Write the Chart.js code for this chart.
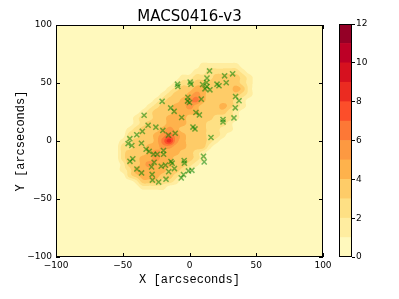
<!DOCTYPE html>
<html>
<head>
<meta charset="utf-8">
<script src="https://cdn.jsdelivr.net/npm/chart.js@4.4.1/dist/chart.umd.min.js"></script>
<style>
html,body{margin:0;padding:0;background:#ffffff;}
#wrap{position:relative;width:399px;height:299px;overflow:hidden;}
#main{position:absolute;left:0;top:0;}
#cbar{position:absolute;left:330px;top:0;}
</style>
</head>
<body>
<div id="wrap">
<canvas id="main" width="399" height="299"></canvas>
<canvas id="cbar" width="69" height="299"></canvas>
</div>
<script>
// ---------------- data ----------------
const chartTitle = "MACS0416-v3";
const xAxisLabel = "X [arcseconds]";
const yAxisLabel = "Y [arcseconds]";
const xTicks = [-100, -50, 0, 50, 100];
const yTicks = [-100, -50, 0, 50, 100];
const colorbarTicks = [0, 2, 4, 6, 8, 10, 12];
const contourLevels = [0, 1, 2, 3, 4, 5, 6, 7, 8, 9, 10, 11, 12];
const bandColors = ["#fff9bd", "#ffeda0", "#fee084", "#fecc68", "#feb24c", "#fd9941",
                    "#fd7836", "#fc4e2a", "#eb2b21", "#d6111f", "#bd0026", "#940026"];

// density grid nodes (arcsec)
const gridX = [-55, -50, -45, -40, -35, -30, -25, -20, -15, -10, -5, 0, 5, 10, 15, 20, 25, 30, 35, 40, 45];
const gridY = [65, 60, 55, 50, 45, 40, 35, 30, 25, 20, 15, 10, 5, 0, -5, -10, -15, -20, -25, -30, -35, -40];
// one digit per node: contour band seen at that node (row = gridY, column = gridX)
const densityRows = [
  "000000000000011111100",
  "000000000000112222210",
  "000000000011222333321",
  "000000000122333333321",
  "000000001233443333431",
  "000000012334543333321",
  "000000123345643333210",
  "000001233445433343210",
  "000012333444433332100",
  "000122334443333222100",
  "000123334443332221000",
  "001233345433332211000",
  "002233456543332210000",
  "012333468543332100000",
  "022334455443331000000",
  "023334544433210000000",
  "023344544333210000000",
  "013345444332100000000",
  "012444443321000000000",
  "002344433210000000000",
  "000133322100000000000",
  "000011110000000000000"
];

// galaxy positions (x markers)
const galaxyX = [15.0, 26.3, 32.3, 27.5, -9.0, -8.7, 0.5, 1.1, 13.1, 12.8, 9.8, 13.1, 11.6, 15.3, 20.6, 22.1,
  -20.5, -1.2, -1.5, 0.0, 8.8, 34.5, 37.1, 34.3, -34.0, -14.1, -11.5, -5.9, 4.8, 7.4, 25.1, 25.1, 33.3,
  -31.0, -25.2, -20.0, 2.6, 4.1, -35.3, -39.5, -15.8, -10.7, -44.7, -36.0, -46.0, -43.2, 16.1,
  -32.5, -30.2, -26.9, -24.2, -19.5, -19.4, -42.5, -44.6, -26.5, -13.9, -13.0, -4.0, -3.8, 10.5, 11.0,
  -28.4, -21.2, -18.0, -39.4, -35.9, -28.0, -15.6, -11.3, -6.2, -4.5, -0.8, 1.8, -27.8, -23.1, -17.6];
const galaxyY = [60.4, 56.2, 57.9, 50.2, 49.0, 47.0, 50.8, 49.0, 54.2, 50.4, 48.7, 47.0, 45.0, 44.1, 49.0, 47.6,
  34.2, 37.7, 34.4, 33.2, 36.1, 38.4, 34.7, 28.6, 22.2, 28.5, 25.6, 20.3, 24.6, 22.5, 18.5, 16.4, 19.9,
  13.6, 11.9, 9.1, 12.0, 10.4, 8.3, 5.4, 5.0, 6.7, 2.0, -1.9, -2.2, -3.9, 3.0,
  -7.1, -9.0, -11.4, -11.4, -8.2, -11.4, -15.4, -17.5, -18.4, -17.7, -19.1, -16.9, -19.1, -13.2, -18.0,
  -22.3, -21.8, -20.8, -24.1, -27.5, -28.8, -26.4, -23.8, -31.8, -29.0, -25.8, -25.3, -33.7, -35.4, -32.9];

// ---------------- helpers ----------------
const TICK_FONT = {family: "'DejaVu Sans', sans-serif", size: 9};
function fmtTick(v) { return v < 0 ? "\u2212" + Math.abs(v) : String(v); }

function nodeValue(i, j) {
  if (j < 0 || j >= densityRows.length || i < 0 || i >= gridX.length) return 0;
  return +densityRows[j][i];
}
// smooth (Catmull-Rom) reading of the grid between nodes
function cr(p0, p1, p2, p3, t) {
  return 0.5 * ((2 * p1) + (-p0 + p2) * t + (2 * p0 - 5 * p1 + 4 * p2 - p3) * t * t + (-p0 + 3 * p1 - 3 * p2 + p3) * t * t * t);
}
function sampleDensity(vx, vy) {
  const fx = (vx - gridX[0]) / (gridX[1] - gridX[0]);
  const fy = (gridY[0] - vy) / (gridY[0] - gridY[1]);
  const i = Math.floor(fx), j = Math.floor(fy);
  const tx = fx - i, ty = fy - j;
  const rows = [];
  for (let m = -1; m <= 2; m++) {
    rows.push(cr(nodeValue(i - 1, j + m), nodeValue(i, j + m), nodeValue(i + 1, j + m), nodeValue(i + 2, j + m), tx));
  }
  return Math.max(0, cr(rows[0], rows[1], rows[2], rows[3], ty));
}
function hexRgb(h) { return [parseInt(h.slice(1, 3), 16), parseInt(h.slice(3, 5), 16), parseInt(h.slice(5, 7), 16)]; }
const bandRgb = bandColors.map(hexRgb);
function bandOf(v) {
  const lev = v + 0.5;
  for (let k = contourLevels.length - 2; k >= 0; k--) if (lev >= contourLevels[k]) return k;
  return 0;
}

const densityPlugin = {
  id: 'density',
  beforeDatasetsDraw(chart) {
    const {ctx, chartArea: a, scales} = chart;
    const sx = scales.x, sy = scales.y;
    const w = Math.round(a.right - a.left), h = Math.round(a.bottom - a.top);
    const off = document.createElement('canvas');
    off.width = w; off.height = h;
    const octx = off.getContext('2d');
    const img = octx.createImageData(w, h);
    const S = 3;
    const vxs = [], vys = [];
    for (let p = 0; p < w * S; p++) vxs.push(sx.getValueForPixel(a.left + (p + 0.5) / S));
    for (let p = 0; p < h * S; p++) vys.push(sy.getValueForPixel(a.top + (p + 0.5) / S));
    for (let py = 0; py < h; py++) {
      for (let px = 0; px < w; px++) {
        let r = 0, g = 0, b = 0;
        for (let u = 0; u < S; u++) for (let t = 0; t < S; t++) {
          const c = bandRgb[bandOf(sampleDensity(vxs[px * S + t], vys[py * S + u]))];
          r += c[0]; g += c[1]; b += c[2];
        }
        const n = S * S, k = (py * w + px) * 4;
        img.data[k] = r / n; img.data[k + 1] = g / n; img.data[k + 2] = b / n; img.data[k + 3] = 255;
      }
    }
    octx.putImageData(img, 0, 0);
    ctx.drawImage(off, a.left, a.top);
  },
  afterDraw(chart) {
    const {ctx, chartArea: a, scales} = chart;
    const sx = scales.x, sy = scales.y;
    ctx.save();
    ctx.strokeStyle = '#000';
    ctx.lineWidth = 1;
    ctx.beginPath();
    const tl = 4;
    xTicks.forEach(v => {
      const p = Math.round(sx.getPixelForValue(v)) + 0.5;
      ctx.moveTo(p, a.bottom); ctx.lineTo(p, a.bottom - tl);
      ctx.moveTo(p, a.top); ctx.lineTo(p, a.top + tl);
    });
    yTicks.forEach(v => {
      const p = Math.round(sy.getPixelForValue(v)) + 0.5;
      ctx.moveTo(a.left, p); ctx.lineTo(a.left + tl, p);
      ctx.moveTo(a.right, p); ctx.lineTo(a.right - tl, p);
    });
    ctx.stroke();
    ctx.strokeRect(Math.round(a.left) + 0.5, Math.round(a.top) + 0.5,
                   Math.round(a.right - a.left) - 1, Math.round(a.bottom - a.top) - 1);
    // title
    ctx.fillStyle = '#000';
    ctx.textAlign = 'center';
    ctx.textBaseline = 'alphabetic';
    ctx.font = "15px 'DejaVu Sans', sans-serif";
    ctx.fillText(chartTitle, (a.left + a.right) / 2, 20.5);
    // axis labels
    ctx.font = "12px 'Liberation Mono', monospace";
    ctx.fillText(xAxisLabel, (a.left + a.right) / 2, 283);
    ctx.translate(24, (a.top + a.bottom) / 2);
    ctx.rotate(-Math.PI / 2);
    ctx.fillText(yAxisLabel, 0, 0);
    ctx.restore();
  }
};

// ---------------- main chart ----------------
new Chart(document.getElementById('main'), {
  type: 'scatter',
  data: {
    datasets: [{
      data: galaxyX.map((x, k) => ({x: x, y: galaxyY[k]})),
      pointStyle: 'crossRot',
      radius: 3.6,
      borderWidth: 1.5,
      borderColor: 'rgba(0,128,0,0.55)',
      backgroundColor: 'rgba(0,0,0,0)'
    }]
  },
  options: {
    responsive: false,
    animation: false,
    devicePixelRatio: 1,
    layout: {padding: {left: 0, right: 76, top: 25, bottom: 0}},
    plugins: {legend: {display: false}, tooltip: {enabled: false}, title: {display: false}},
    scales: {
      x: {
        type: 'linear', min: -100, max: 100,
        afterBuildTicks: s => { s.ticks = xTicks.map(v => ({value: v})); },
        afterFit: s => { s.height = 42; },
        ticks: {font: TICK_FONT, color: '#000', padding: 3, maxRotation: 0, autoSkip: false, callback: fmtTick},
        grid: {display: true, drawOnChartArea: false, drawTicks: false},
        border: {display: false}
      },
      y: {
        type: 'linear', min: -100, max: 100,
        afterBuildTicks: s => { s.ticks = yTicks.map(v => ({value: v})); },
        afterFit: s => { s.width = 56; },
        ticks: {font: TICK_FONT, color: '#000', padding: 4, autoSkip: false, callback: fmtTick},
        grid: {display: true, drawOnChartArea: false, drawTicks: false},
        border: {display: false}
      }
    }
  },
  plugins: [densityPlugin]
});

// ---------------- colorbar ----------------
const cbarBorder = {
  id: 'cbarBorder',
  afterDraw(chart) {
    const {ctx, chartArea: a} = chart;
    ctx.save();
    ctx.strokeStyle = '#000';
    ctx.lineWidth = 1;
    ctx.strokeRect(Math.round(a.left) + 0.5, Math.round(a.top) + 0.5,
                   Math.round(a.right - a.left) - 1, Math.round(a.bottom - a.top) - 1);
    ctx.restore();
  }
};
new Chart(document.getElementById('cbar'), {
  type: 'bar',
  data: {
    labels: [''],
    datasets: bandColors.map((c, k) => ({
      data: [contourLevels[k + 1] - contourLevels[k]],
      backgroundColor: c,
      borderWidth: 0,
      barPercentage: 1,
      categoryPercentage: 1
    }))
  },
  options: {
    responsive: false,
    animation: false,
    devicePixelRatio: 1,
    layout: {padding: {left: 9, right: 0, top: 24, bottom: 42}},
    plugins: {legend: {display: false}, tooltip: {enabled: false}},
    scales: {
      x: {stacked: true, display: false},
      y: {
        stacked: true, position: 'right', min: 0, max: 12,
        afterBuildTicks: s => { s.ticks = colorbarTicks.map(v => ({value: v})); },
        afterFit: s => { s.width = 47; },
        ticks: {font: TICK_FONT, color: '#000', padding: 1, autoSkip: false},
        grid: {display: true, drawOnChartArea: false, drawTicks: true, tickLength: 3, color: '#000'},
        border: {display: false}
      }
    }
  },
  plugins: [cbarBorder]
});
</script>
</body>
</html>
